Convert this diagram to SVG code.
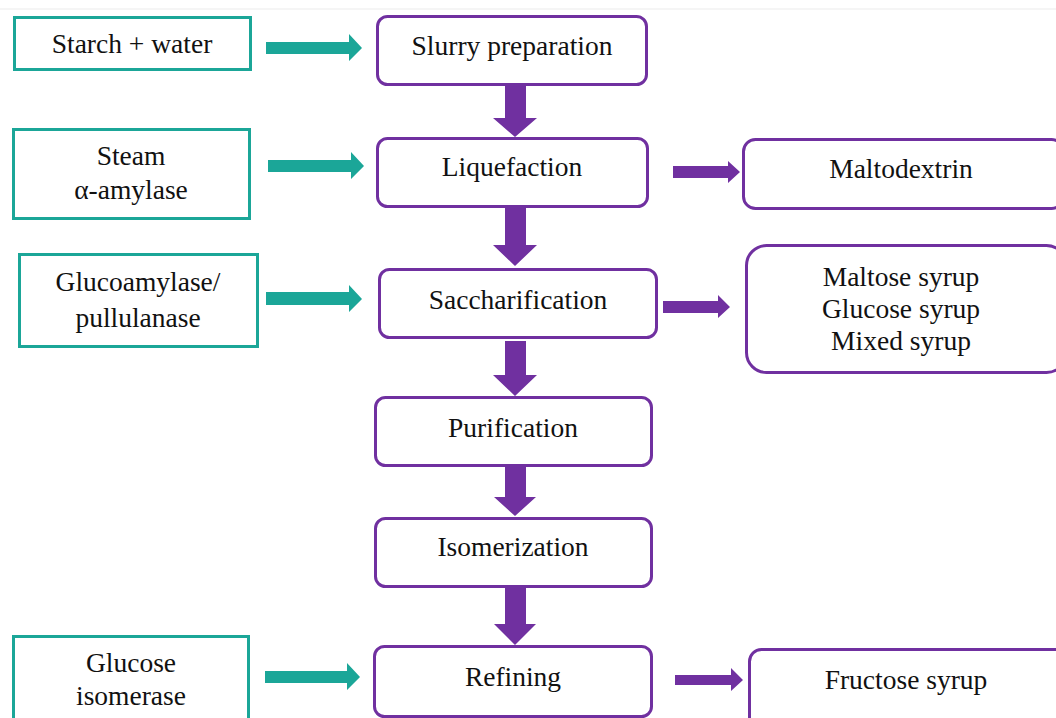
<svg xmlns="http://www.w3.org/2000/svg" width="1056" height="718" viewBox="0 0 1056 718">
<style>
.in{fill:#fff;stroke:#1ba698;stroke-width:3}
.st{fill:#fff;stroke:#7030a0;stroke-width:3}
.t{font-family:"Liberation Serif","Times New Roman",serif;font-size:27.5px;fill:#111;text-anchor:middle}
.ta{fill:#1ba698}
.pa{fill:#7030a0}
</style>
<rect x="0" y="0" width="1056" height="718" fill="#fff"/>
<line x1="0" y1="9" x2="1056" y2="9" stroke="#f2f2f2" stroke-width="1.5"/>
<g id="connectors">
<path class="ta" d="M266,42H349V34L362,48L349,61V54H266Z"/>
<path class="ta" d="M268,160H351V152L364,166L351,179V172H268Z"/>
<path class="ta" d="M266,292H349V285L362,299L349,312V305H266Z"/>
<path class="ta" d="M265,671H347V663L360,677L347,690V683H265Z"/>
<path class="pa" d="M505,85H526V118H537L515,137L493,118H505Z"/>
<path class="pa" d="M505,207H526V245H537L515,266L493,245H505Z"/>
<path class="pa" d="M505,341H526V375H537L515,396L493,375H505Z"/>
<path class="pa" d="M505,455H526V497H536L515,516L494,497H505Z"/>
<path class="pa" d="M505,577H526V624H536L515,645L494,624H505Z"/>
<path class="pa" d="M673,166H728V161L740,172L728,183V178H673Z"/>
<path class="pa" d="M663,301H718V295L730,307L718,318V313H663Z"/>
<path class="pa" d="M675,675H731V668L743,680L731,691V685H675Z"/>
</g>
<g id="starch"><rect class="in" x="14.5" y="17.5" width="236" height="52"/><text class="t" x="132" y="53">Starch + water</text></g>
<g id="steam"><rect class="in" x="13.5" y="129.5" width="236" height="89"/><text class="t" x="131" y="165">Steam</text><text class="t" x="131" y="199">α-amylase</text></g>
<g id="glucoamylase"><rect class="in" x="19.5" y="254.5" width="238" height="92"/><text class="t" x="138" y="291">Glucoamylase/</text><text class="t" x="138" y="327">pullulanase</text></g>
<g id="isomerase"><rect class="in" x="13.5" y="636.5" width="235" height="90"/><text class="t" x="131" y="672">Glucose</text><text class="t" x="131" y="705">isomerase</text></g>
<g id="slurry"><rect class="st" x="377.5" y="16.5" width="269" height="68" rx="10"/><text class="t" x="512" y="55">Slurry preparation</text></g>
<g id="liquefaction"><rect class="st" x="377.5" y="138.5" width="270" height="68" rx="10"/><text class="t" x="512" y="176">Liquefaction</text></g>
<g id="saccharification"><rect class="st" x="379.5" y="269.5" width="277" height="68" rx="10"/><text class="t" x="518" y="309">Saccharification</text></g>
<g id="purification"><rect class="st" x="375.5" y="397.5" width="276" height="68" rx="10"/><text class="t" x="513" y="437">Purification</text></g>
<g id="isomerization"><rect class="st" x="375.5" y="518.5" width="276" height="68" rx="10"/><text class="t" x="513" y="556">Isomerization</text></g>
<g id="refining"><rect class="st" x="374.5" y="646.5" width="277" height="70" rx="10"/><text class="t" x="513" y="686">Refining</text></g>
<g id="maltodextrin"><rect class="st" x="743.5" y="139.5" width="320" height="69" rx="12"/><text class="t" x="901" y="178">Maltodextrin</text></g>
<g id="syrups"><rect class="st" x="746.5" y="245.5" width="320" height="127" rx="20"/><text class="t" x="901" y="286">Maltose syrup</text><text class="t" x="901" y="318">Glucose syrup</text><text class="t" x="901" y="350">Mixed syrup</text></g>
<g id="fructose"><rect class="st" x="749.5" y="649.5" width="320" height="80" rx="12"/><text class="t" x="906" y="689">Fructose syrup</text></g>
</svg>
